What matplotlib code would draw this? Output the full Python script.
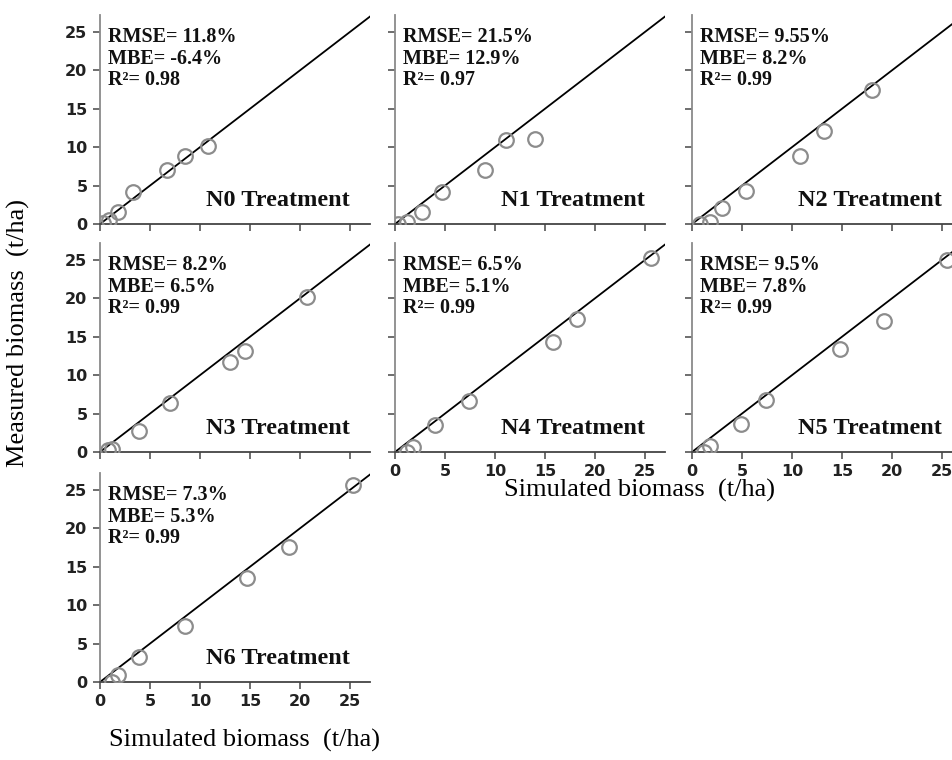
import matplotlib.pyplot as plt

# simulated (x) vs measured (y) biomass, t/ha
treatments = ["N0", "N1", "N2", "N3", "N4", "N5", "N6"]
sim = [
    [0.3, 0.9, 1.8, 3.3, 6.7, 8.5, 10.8],
    [0.3, 1.2, 2.7, 4.7, 9.0, 11.1, 14.0],
    [0.8, 1.8, 3.0, 5.4, 10.8, 13.2, 18.0],
    [0.8, 1.2, 3.9, 7.0, 13.0, 14.5, 20.7],
    [1.2, 1.8, 4.0, 7.4, 15.8, 18.2, 25.6],
    [1.2, 1.8, 4.9, 7.4, 14.8, 19.2, 25.5],
    [1.2, 1.8, 3.9, 8.5, 14.7, 18.9, 25.3],
]
meas = [
    [0.1, 0.5, 1.6, 4.2, 7.0, 8.9, 10.1],
    [0.0, 0.3, 1.5, 4.1, 7.0, 10.9, 11.1],
    [0.0, 0.3, 2.1, 4.3, 8.8, 12.1, 17.4],
    [0.2, 0.4, 2.7, 6.4, 11.7, 13.2, 20.2],
    [0.0, 0.7, 3.5, 6.7, 14.3, 17.3, 25.3],
    [0.0, 0.8, 3.6, 6.8, 13.4, 17.1, 25.0],
    [0.0, 0.9, 3.2, 7.3, 13.6, 17.6, 25.6],
]
rmse = ["11.8%", "21.5%", "9.55%", "8.2%", "6.5%", "9.5%", "7.3%"]
mbe = ["-6.4%", "12.9%", "8.2%", "6.5%", "5.1%", "7.8%", "5.3%"]
r2 = ["0.98", "0.97", "0.99", "0.99", "0.99", "0.99", "0.99"]
ticks = [0, 5, 10, 15, 20, 25]

W, H = 953, 760
fig = plt.figure(figsize=(W / 100, H / 100), dpi=100)

col_left = [100, 395, 692]
row_bottom = [224, 452, 682]
aw, ah = 270, 209

serif = "Liberation Serif"
sans = "DejaVu Sans"

for i, name in enumerate(treatments):
    r, c = divmod(i, 3)
    ax = fig.add_axes([col_left[c] / W, (H - row_bottom[r]) / H, aw / W, ah / H])
    ax.plot([0, 30], [0, 30], color="black", lw=1.3, zorder=2)
    ax.plot(sim[i], meas[i], "o", mfc="none", mec="#8c8c8c", ms=10.5, mew=1.6, zorder=3)
    ax.set_xlim(0, 27)
    ax.set_ylim(0, 27.2)
    ax.set_xticks(ticks)
    ax.set_yticks(ticks)
    for s in ["top", "right"]:
        ax.spines[s].set_visible(False)
    ax.spines["left"].set_color("#8a8a8a")
    ax.spines["bottom"].set_color("#444444")
    ax.spines["left"].set_linewidth(1.3)
    ax.spines["bottom"].set_linewidth(1.3)
    ax.tick_params(direction="out", length=5, width=1.2, color="#555555",
                   labelsize=11.5, pad=4)
    for lab in ax.get_xticklabels() + ax.get_yticklabels():
        lab.set_fontfamily(sans)
        lab.set_fontweight("bold")
        lab.set_color("#222222")
    if c != 0:
        ax.tick_params(labelleft=False)
    if not (r == 2 or (r == 1 and c > 0)):
        ax.tick_params(labelbottom=False)
    ax.patch.set_alpha(0)

    ax.text(0.8, 25.6, "RMSE= %s\nMBE= %s\nR²= %s" % (rmse[i], mbe[i], r2[i]),
            ha="left", va="top", fontsize=14.5, fontweight="bold",
            family=serif, linespacing=1.1, color="#111111")
    ax.text(25.0, 2.4, name + " Treatment", ha="right", va="baseline",
            fontsize=17.5, fontweight="bold", family=serif, color="#111111")

fig.text(18 / W, 1 - 333 / H, "Measured biomass  (t/ha)", rotation=90,
         ha="center", va="center", fontsize=19, family=serif)
fig.text(640 / W, 1 - 490 / H, "Simulated biomass  (t/ha)",
         ha="center", va="center", fontsize=19, family=serif)
fig.text(245 / W, 1 - 740 / H, "Simulated biomass  (t/ha)",
         ha="center", va="center", fontsize=19, family=serif)

fig.savefig("out.png", dpi=100)
